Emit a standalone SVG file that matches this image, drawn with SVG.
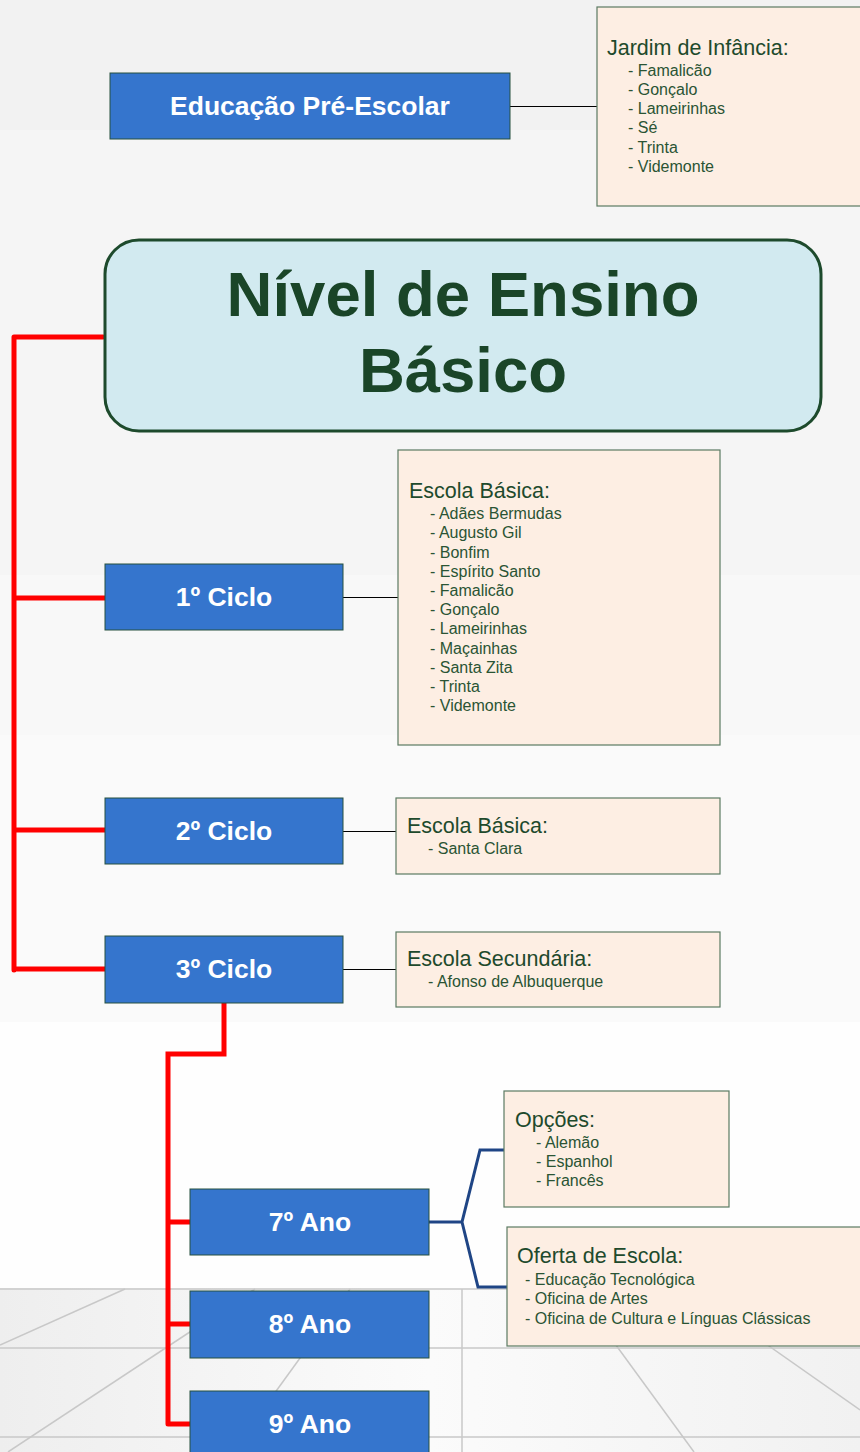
<svg xmlns="http://www.w3.org/2000/svg" width="860" height="1452" viewBox="0 0 860 1452">
<defs>
<style>
.node{fill:#3575cd;stroke:#27503f;stroke-width:1}
.nt{font-family:"Liberation Sans",Arial,sans-serif;font-weight:bold;font-size:26.5px;fill:#ffffff;text-anchor:middle}
.box{fill:#fdeee3;stroke:#5b7a62;stroke-width:1.2}
.bt{font-family:"Liberation Sans",Arial,sans-serif;font-size:21.5px;fill:#1e4a2c}
.bi{font-family:"Liberation Sans",Arial,sans-serif;font-size:16px;fill:#2a5434}
.thin{stroke:#000;stroke-width:1;fill:none}
.red{stroke:#ff0000;stroke-width:5;fill:none;stroke-linecap:round;stroke-linejoin:miter}
.blue{stroke:#1f4585;stroke-width:3;fill:none}
.grid{stroke:#c8c8c8;stroke-width:1.5;fill:none}
</style>
<linearGradient id="floor" x1="0" y1="0" x2="1" y2="0">
<stop offset="0" stop-color="#eeeeee"/>
<stop offset="0.5" stop-color="#fbfbfb"/>
<stop offset="1" stop-color="#f1f1f1"/>
</linearGradient>
</defs>
<g id="background">
<rect x="0" y="0" width="860" height="130" fill="#f2f2f2"/>
<rect x="0" y="130" width="860" height="445" fill="#f5f5f5"/>
<rect x="0" y="575" width="860" height="160" fill="#f8f8f8"/>
<rect x="0" y="735" width="860" height="287" fill="#fafafa"/>
<rect x="0" y="1022" width="860" height="266" fill="#fefefe"/>
<rect x="0" y="1288" width="860" height="164" fill="url(#floor)"/>
<line class="grid" x1="0" y1="1289" x2="860" y2="1289" stroke-width="3" stroke="#d4d4d4"/>
<line class="grid" x1="0" y1="1348" x2="860" y2="1348"/>
<line class="grid" x1="0" y1="1437" x2="860" y2="1437"/>
<line class="grid" x1="462" y1="1289" x2="462" y2="1452"/>
<line class="grid" x1="0" y1="1345" x2="125" y2="1289"/>
<line class="grid" x1="8" y1="1452" x2="255" y2="1289"/>
<line class="grid" x1="232" y1="1452" x2="350" y2="1289"/>
<line class="grid" x1="575" y1="1289" x2="694" y2="1452"/>
<line class="grid" x1="688" y1="1289" x2="860" y2="1410"/>
</g>
<g id="connectors">
<line class="thin" x1="510" y1="106.5" x2="597" y2="106.5"/>
<line class="thin" x1="343" y1="597.5" x2="398" y2="597.5"/>
<line class="thin" x1="343" y1="831.5" x2="396" y2="831.5"/>
<line class="thin" x1="343" y1="969.5" x2="396" y2="969.5"/>
<path class="red" d="M14 337 V970 M14 337 H103 M14 598 H105 M14 830 H105 M14 969 H105"/>
<path class="red" d="M224 1003 V1054 H168 V1424 M168 1222 H190 M168 1324 H190 M168 1424 H190"/>
<path class="blue" d="M429 1222 H462 L480 1150 H505 M462 1222 L478 1287 H507"/>
</g>
<g id="pre-escolar">
<rect class="node" x="110" y="73" width="400" height="66"/>
<text class="nt" x="310" y="115">Educação Pré-Escolar</text>
</g>
<g id="jardim">
<rect class="box" x="597" y="7" width="265" height="199"/>
<text class="bt" x="607" y="55">Jardim de Infância:</text>
<text class="bi" x="628" y="76">- Famalicão</text>
<text class="bi" x="628" y="95">- Gonçalo</text>
<text class="bi" x="628" y="114">- Lameirinhas</text>
<text class="bi" x="628" y="133">- Sé</text>
<text class="bi" x="628" y="153">- Trinta</text>
<text class="bi" x="628" y="172">- Videmonte</text>
</g>
<g id="titulo">
<rect x="105" y="240" width="716" height="191" rx="34" ry="34" fill="#d2eaf0" stroke="#1d4a2c" stroke-width="3"/>
<text x="463" y="316" font-family="'Liberation Sans',Arial,sans-serif" font-weight="bold" font-size="63.5" fill="#1a4528" text-anchor="middle">Nível de Ensino</text>
<text x="463" y="392" font-family="'Liberation Sans',Arial,sans-serif" font-weight="bold" font-size="63.5" fill="#1a4528" text-anchor="middle">Básico</text>
</g>
<g id="ciclo1">
<rect class="node" x="105" y="564" width="238" height="66"/>
<text class="nt" x="224" y="606">1º Ciclo</text>
</g>
<g id="escola1">
<rect class="box" x="398" y="450" width="322" height="295"/>
<text class="bt" x="409" y="498">Escola Básica:</text>
<text class="bi" x="430" y="519">- Adães Bermudas</text>
<text class="bi" x="430" y="538">- Augusto Gil</text>
<text class="bi" x="430" y="558">- Bonfim</text>
<text class="bi" x="430" y="577">- Espírito Santo</text>
<text class="bi" x="430" y="596">- Famalicão</text>
<text class="bi" x="430" y="615">- Gonçalo</text>
<text class="bi" x="430" y="634">- Lameirinhas</text>
<text class="bi" x="430" y="654">- Maçainhas</text>
<text class="bi" x="430" y="673">- Santa Zita</text>
<text class="bi" x="430" y="692">- Trinta</text>
<text class="bi" x="430" y="711">- Videmonte</text>
</g>
<g id="ciclo2">
<rect class="node" x="105" y="798" width="238" height="66"/>
<text class="nt" x="224" y="840">2º Ciclo</text>
</g>
<g id="escola2">
<rect class="box" x="396" y="798" width="324" height="76"/>
<text class="bt" x="407" y="833">Escola Básica:</text>
<text class="bi" x="428" y="854">- Santa Clara</text>
</g>
<g id="ciclo3">
<rect class="node" x="105" y="936" width="238" height="67"/>
<text class="nt" x="224" y="978">3º Ciclo</text>
</g>
<g id="escola3">
<rect class="box" x="396" y="932" width="324" height="75"/>
<text class="bt" x="407" y="966">Escola Secundária:</text>
<text class="bi" x="428" y="987">- Afonso de Albuquerque</text>
</g>
<g id="ano7">
<rect class="node" x="190" y="1189" width="239" height="66"/>
<text class="nt" x="310" y="1231">7º Ano</text>
</g>
<g id="ano8">
<rect class="node" x="190" y="1291" width="239" height="67"/>
<text class="nt" x="310" y="1333">8º Ano</text>
</g>
<g id="ano9">
<rect class="node" x="190" y="1391" width="239" height="66"/>
<text class="nt" x="310" y="1433">9º Ano</text>
</g>
<g id="opcoes">
<rect class="box" x="504" y="1091" width="225" height="116"/>
<text class="bt" x="515" y="1127">Opções:</text>
<text class="bi" x="536" y="1148">- Alemão</text>
<text class="bi" x="536" y="1167">- Espanhol</text>
<text class="bi" x="536" y="1186">- Francês</text>
</g>
<g id="oferta">
<rect class="box" x="507" y="1227" width="355" height="119"/>
<text class="bt" x="517" y="1263">Oferta de Escola:</text>
<text class="bi" x="525" y="1285">- Educação Tecnológica</text>
<text class="bi" x="525" y="1304">- Oficina de Artes</text>
<text class="bi" x="525" y="1324">- Oficina de Cultura e Línguas Clássicas</text>
</g>
</svg>
